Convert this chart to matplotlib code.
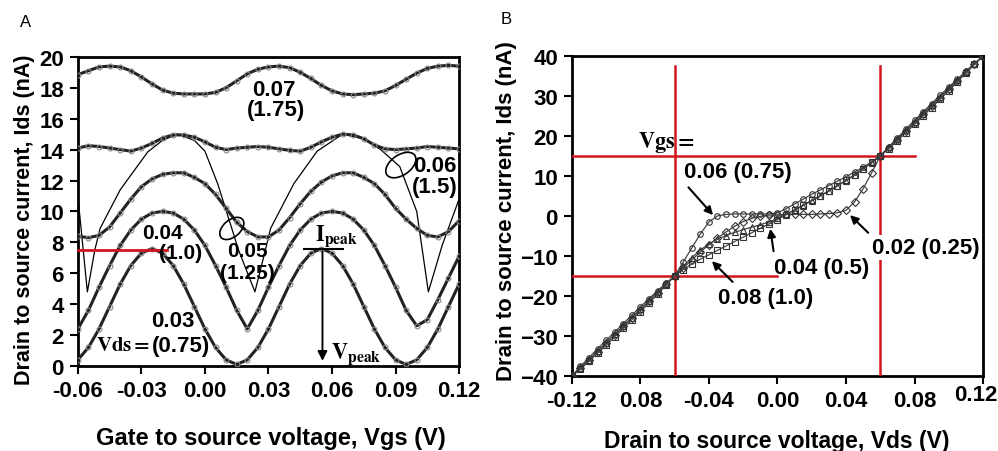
import numpy as np
import matplotlib
matplotlib.use('Agg')
import matplotlib.pyplot as plt
import matplotlib.transforms as mtransforms
from matplotlib.patches import Ellipse

plt.rcParams['font.family'] = ['Liberation Sans', 'DejaVu Sans']
plt.rcParams['mathtext.fontset'] = 'stix'

# ---------------- panel A data: Ids (nA) vs Vgs (V) ----------------
vgs = [-0.06, -0.055, -0.05, -0.045, -0.04, -0.035, -0.03, -0.025, -0.02, -0.015,
       -0.01, -0.005, 0.0, 0.005, 0.01, 0.015, 0.02, 0.025, 0.03, 0.035,
       0.04, 0.045, 0.05, 0.055, 0.06, 0.065, 0.07, 0.075, 0.08, 0.085,
       0.09, 0.095, 0.1, 0.105, 0.11, 0.115, 0.12]

ids_vds003 = [0.4, 1.2, 2.4, 3.85, 5.3, 6.5, 7.3, 7.6, 7.3, 6.5,
              5.3, 3.85, 2.4, 1.2, 0.4, 0.1, 0.4, 1.2, 2.4, 3.85,
              5.3, 6.5, 7.3, 7.6, 7.3, 6.5, 5.3, 3.85, 2.4, 1.2,
              0.4, 0.1, 0.4, 1.2, 2.4, 3.85, 5.3]
ids_vds004 = [2.4, 3.6, 5.1, 6.5, 7.8, 8.8, 9.5, 9.9, 10.0, 9.9,
              9.5, 8.8, 7.8, 6.5, 5.1, 3.6, 2.4, 3.6, 5.1, 6.5,
              7.8, 8.8, 9.5, 9.9, 10.0, 9.9, 9.5, 8.8, 7.8, 6.5,
              5.1, 3.6, 2.6, 3.0, 4.3, 5.7, 7.1]
ids_vds005 = [8.4, 8.3, 8.45, 9.0, 9.9, 10.8, 11.6, 12.1, 12.4, 12.5,
              12.5, 12.2, 11.8, 11.1, 10.2, 9.3, 8.7, 8.35, 8.35, 8.8,
              9.6, 10.5, 11.3, 11.9, 12.3, 12.5, 12.5, 12.2, 11.8, 11.1,
              10.2, 9.5, 8.9, 8.45, 8.35, 8.7, 9.4]
ids_vds006 = [14.1, 14.25, 14.2, 14.1, 14.0, 13.9, 14.1, 14.4, 14.75, 14.95,
              14.95, 14.8, 14.5, 14.15, 14.0, 14.1, 14.15, 14.2, 14.15, 14.05,
              13.95, 13.9, 14.15, 14.5, 14.8, 15.0, 14.95, 14.7, 14.3, 14.05,
              14.0, 14.05, 14.1, 14.2, 14.15, 14.1, 14.05]
ids_vds007 = [18.85, 19.1, 19.35, 19.4, 19.35, 19.1, 18.7, 18.25, 17.85, 17.65,
              17.6, 17.6, 17.6, 17.7, 18.0, 18.45, 18.9, 19.2, 19.35, 19.4,
              19.3, 19.0, 18.6, 18.15, 17.8, 17.6, 17.55, 17.6, 17.65, 17.8,
              18.15, 18.55, 18.95, 19.25, 19.4, 19.45, 19.4]

# thin guide line (no markers)
vgs_thin = [-0.06, -0.0555, -0.052, -0.0495, -0.04, -0.027, -0.02, -0.013, -0.005, 0.0,
            0.006, 0.0127, 0.0156, 0.0236, 0.028, 0.031, 0.042, 0.053, 0.065, 0.075,
            0.083, 0.092, 0.1, 0.1055, 0.112, 0.12]
ids_thin = [11.0, 4.8, 7.5, 8.9, 11.4, 13.85, 14.6, 15.0, 14.6, 13.9,
            11.8, 8.9, 7.6, 4.8, 7.2, 8.9, 11.8, 13.9, 15.0, 14.7,
            14.0, 12.9, 10.0, 4.8, 7.8, 10.8]

# ---------------- panel B data: Ids (nA) vs Vds (V) ----------------
vds = [-0.12, -0.115, -0.11, -0.105, -0.1, -0.095, -0.09, -0.085, -0.08, -0.075,
       -0.07, -0.065, -0.06, -0.055, -0.05, -0.045, -0.04, -0.035, -0.03, -0.025,
       -0.02, -0.015, -0.01, -0.005, 0.0, 0.005, 0.01, 0.015, 0.02, 0.025,
       0.03, 0.035, 0.04, 0.045, 0.05, 0.055, 0.06, 0.065, 0.07, 0.075,
       0.08, 0.085, 0.09, 0.095, 0.1, 0.105, 0.11, 0.115, 0.12]

ids_vgs006 = [-40, -37.6, -35.4, -33.2, -31.1, -29.0, -26.9, -24.8, -22.7, -20.7,
              -18.7, -16.8, -15.0, -11.5, -8.0, -4.5, -1.5, 0.0, 0.4, 0.5,
              0.5, 0.5, 0.5, 0.5, 0.8, 1.8, 3.0, 4.2, 5.4, 6.5,
              7.6, 8.7, 9.8, 11.0, 12.2, 13.5, 15.0, 17.3, 19.5, 21.7,
              23.9, 26.0, 28.1, 30.2, 32.2, 34.2, 36.2, 38.1, 40]
ids_vgs002 = [-40, -38.1, -36.0, -33.9, -31.8, -29.7, -27.6, -25.5, -23.4, -21.3,
              -19.2, -17.1, -15.0, -13.0, -11.0, -9.0, -7.2, -5.5, -4.0, -2.6,
              -1.4, -0.6, -0.1, 0.2, 0.3, 0.4, 0.4, 0.4, 0.4, 0.5,
              0.6, 0.8, 1.4, 3.5, 6.8, 10.8, 15.0, 17.0, 19.1, 21.2,
              23.3, 25.4, 27.5, 29.6, 31.7, 33.8, 35.9, 38.0, 40]
ids_vgs004 = [-40, -38.0, -35.9, -33.8, -31.7, -29.6, -27.5, -25.4, -23.3, -21.2,
              -19.1, -17.0, -15.0, -12.6, -10.4, -8.5, -7.0, -5.8, -4.9, -4.1,
              -3.4, -2.8, -2.2, -1.5, -0.6, 0.4, 1.5, 2.6, 3.8, 5.0,
              6.2, 7.5, 8.8, 10.2, 11.7, 13.3, 15.0, 17.2, 19.3, 21.4,
              23.5, 25.6, 27.7, 29.8, 31.8, 33.9, 35.9, 38.0, 40]
ids_vgs008 = [-40, -38.3, -36.3, -34.3, -32.3, -30.2, -28.1, -26.0, -23.9, -21.8,
              -19.6, -17.3, -15.0, -13.4, -12.0, -10.8, -9.7, -8.6, -7.5, -6.4,
              -5.3, -4.2, -3.1, -2.0, -0.9, 0.3, 1.5, 2.7, 3.9, 5.1,
              6.3, 7.6, 8.9, 10.3, 11.8, 13.4, 15.0, 16.8, 18.8, 20.8,
              22.9, 25.0, 27.1, 29.2, 31.3, 33.5, 35.7, 37.9, 40]

xticksA = [-0.06, -0.03, 0.0, 0.03, 0.06, 0.09, 0.12]
yticksA = [0, 2, 4, 6, 8, 10, 12, 14, 16, 18, 20]
xticksB = [-0.12, -0.08, -0.04, 0.0, 0.04, 0.08, 0.12]
xlabelsB = ['-0.12', '0.08', '-0.04', '0.00', '0.04', '0.08', '0.12']
yticksB = [-40, -30, -20, -10, 0, 10, 20, 30, 40]

RED = '#d4141c'
FS_TICK = 16
FS_ANN = 16


def style_axes(ax):
    for s in ax.spines.values():
        s.set_linewidth(2)
    ax.tick_params(direction='out', length=6, width=1.5, labelsize=FS_TICK, pad=4)
    for lab in ax.get_xticklabels() + ax.get_yticklabels():
        lab.set_fontweight('bold')


def ellipse(ax, x, y, w, h, ang):
    trans = fig.dpi_scale_trans + mtransforms.ScaledTranslation(x, y, ax.transData)
    ax.add_patch(Ellipse((0, 0), w, h, angle=ang, transform=trans,
                         fill=False, ec='black', lw=1.2, zorder=6))


fig = plt.figure(figsize=(9.98, 4.52), dpi=100)

# ================= panel A =================
axA = fig.add_axes([0.078, 0.188, 0.382, 0.684])
axA.plot(vgs_thin, ids_thin, color='black', lw=0.9, zorder=3)
for y in [ids_vds003, ids_vds004, ids_vds005, ids_vds006, ids_vds007]:
    axA.plot(vgs, y, color='#222222', lw=2.2, marker='o', ms=3.5,
             mfc='none', mec='#888888', mew=0.8, zorder=4)

axA.set_xlim(-0.06, 0.12)
axA.set_ylim(0, 20)
axA.set_xticks(xticksA)
axA.set_xticklabels(['%.2f' % v for v in xticksA])
axA.set_yticks(yticksA)
style_axes(axA)
axA.set_xlabel('Gate to source voltage, Vgs (V)', fontsize=17, fontweight='bold')
axA.xaxis.set_label_coords(0.507, -0.195)
axA.set_ylabel('Drain to source current, Ids (nA)', fontsize=15.5, fontweight='bold')
axA.yaxis.set_label_coords(-0.112, 0.476)

axA.plot([-0.06, -0.018], [7.5, 7.5], color=RED, lw=2, zorder=5, clip_on=False)
axA.plot([0.047, 0.065], [7.6, 7.6], color='black', lw=1.5, zorder=5)
axA.annotate('', xy=(0.0555, 0.15), xytext=(0.0555, 7.6),
             arrowprops=dict(arrowstyle='-|>', color='black', lw=1.4,
                             mutation_scale=14), zorder=5)
axA.text(0.062, 8.45, r'$\mathbf{I_{peak}}$', fontsize=16, ha='center', va='center', zorder=6)
axA.text(0.0715, 0.85, r'$\mathbf{V_{peak}}$', fontsize=16, ha='center', va='center', zorder=6)

tkw = dict(fontsize=FS_ANN, fontweight='bold', ha='center', va='center', zorder=6)
skw = dict(tkw, fontsize=15)
axA.text(0.0325, 17.9, '0.07', **tkw)
axA.text(0.0335, 16.6, '(1.75)', **tkw)
axA.text(0.1087, 12.95, '0.06', **tkw)
axA.text(0.1087, 11.6, '(1.5)', **tkw)
axA.text(-0.020, 8.65, '0.04', **skw)
axA.text(-0.0115, 7.35, '(1.0)', **skw)
axA.text(0.0203, 7.45, '0.05', **skw)
axA.text(0.0200, 6.05, '(1.25)', **skw)
axA.text(-0.0151, 2.95, '0.03', **tkw)
axA.text(-0.0113, 1.3, '(0.75)', **tkw)
axA.text(-0.0385, 1.4, r'$\mathbf{Vds=}$', fontsize=15, ha='center', va='center', zorder=6)
ellipse(axA, 0.0925, 13.0, 0.34, 0.2, 35)
ellipse(axA, 0.0127, 8.9, 0.28, 0.17, 40)

# ================= panel B =================
axB = fig.add_axes([0.573, 0.166, 0.412, 0.708])
mk = ['o', 'D', '^', 's']
for y, m in zip([ids_vgs006, ids_vgs002, ids_vgs004, ids_vgs008], mk):
    axB.plot(vds, y, color='#444444', lw=0.9, marker=m, ms=4,
             mfc='none', mec='#333333', mew=0.8, zorder=4)

axB.plot([-0.06, -0.06], [-40, 37.5], color=RED, lw=1.8, zorder=3)
axB.plot([0.06, 0.06], [-40, 37.5], color=RED, lw=1.8, zorder=3)
axB.plot([-0.12, 0.08], [15, 15], color=RED, lw=1.8, zorder=3)
axB.plot([-0.12, 0.0], [-15, -15], color=RED, lw=1.8, zorder=3)

axB.set_xlim(-0.12, 0.12)
axB.set_ylim(-40, 40)
axB.set_xticks(xticksB)
axB.set_xticklabels(xlabelsB)
axB.set_yticks(yticksB)
style_axes(axB)
last = axB.get_xticklabels()[-1]
last.set_transform(last.get_transform() + mtransforms.ScaledTranslation(-0.07, 0.06, fig.dpi_scale_trans))
axB.set_xlabel('Drain to source voltage, Vds (V)', fontsize=16.5, fontweight='bold')
axB.xaxis.set_label_coords(0.499, -0.165)
axB.set_ylabel('Drain to source current, Ids (nA)', fontsize=16, fontweight='bold')
axB.yaxis.set_label_coords(-0.134, 0.519)

axB.text(-0.065, 18.7, r'$\mathbf{Vgs=}$', fontsize=16, ha='center', va='center', zorder=6)
bkw = dict(fontsize=FS_ANN, fontweight='bold', ha='center', va='center', zorder=6)
akw = dict(arrowstyle='-|>', color='black', lw=1.5, mutation_scale=12)
axB.annotate('0.06 (0.75)', xy=(-0.0365, -0.3), xytext=(-0.023, 11),
             arrowprops=dict(akw, relpos=(0.0, 0.0)), **bkw)
axB.annotate('0.02 (0.25)', xy=(0.0412, 0.7), xytext=(0.0867, -7.8),
             arrowprops=dict(akw, relpos=(0.0, 1.0)),
             bbox=dict(fc='white', ec='none', pad=1.5), **bkw)
axB.annotate('0.04 (0.5)', xy=(-0.0044, -2.5), xytext=(0.026, -12.8),
             arrowprops=dict(akw, relpos=(0.0, 1.0)), **bkw)
axB.annotate('0.08 (1.0)', xy=(-0.0394, -10.8), xytext=(-0.0067, -20.3),
             arrowprops=dict(akw, relpos=(0.2, 1.0)), **bkw)

fig.text(0.02, 0.95, 'A', fontsize=12, ha='left', va='center')
fig.text(0.502, 0.956, 'B', fontsize=12, ha='left', va='center')

fig.savefig('out.png', dpi=100)
